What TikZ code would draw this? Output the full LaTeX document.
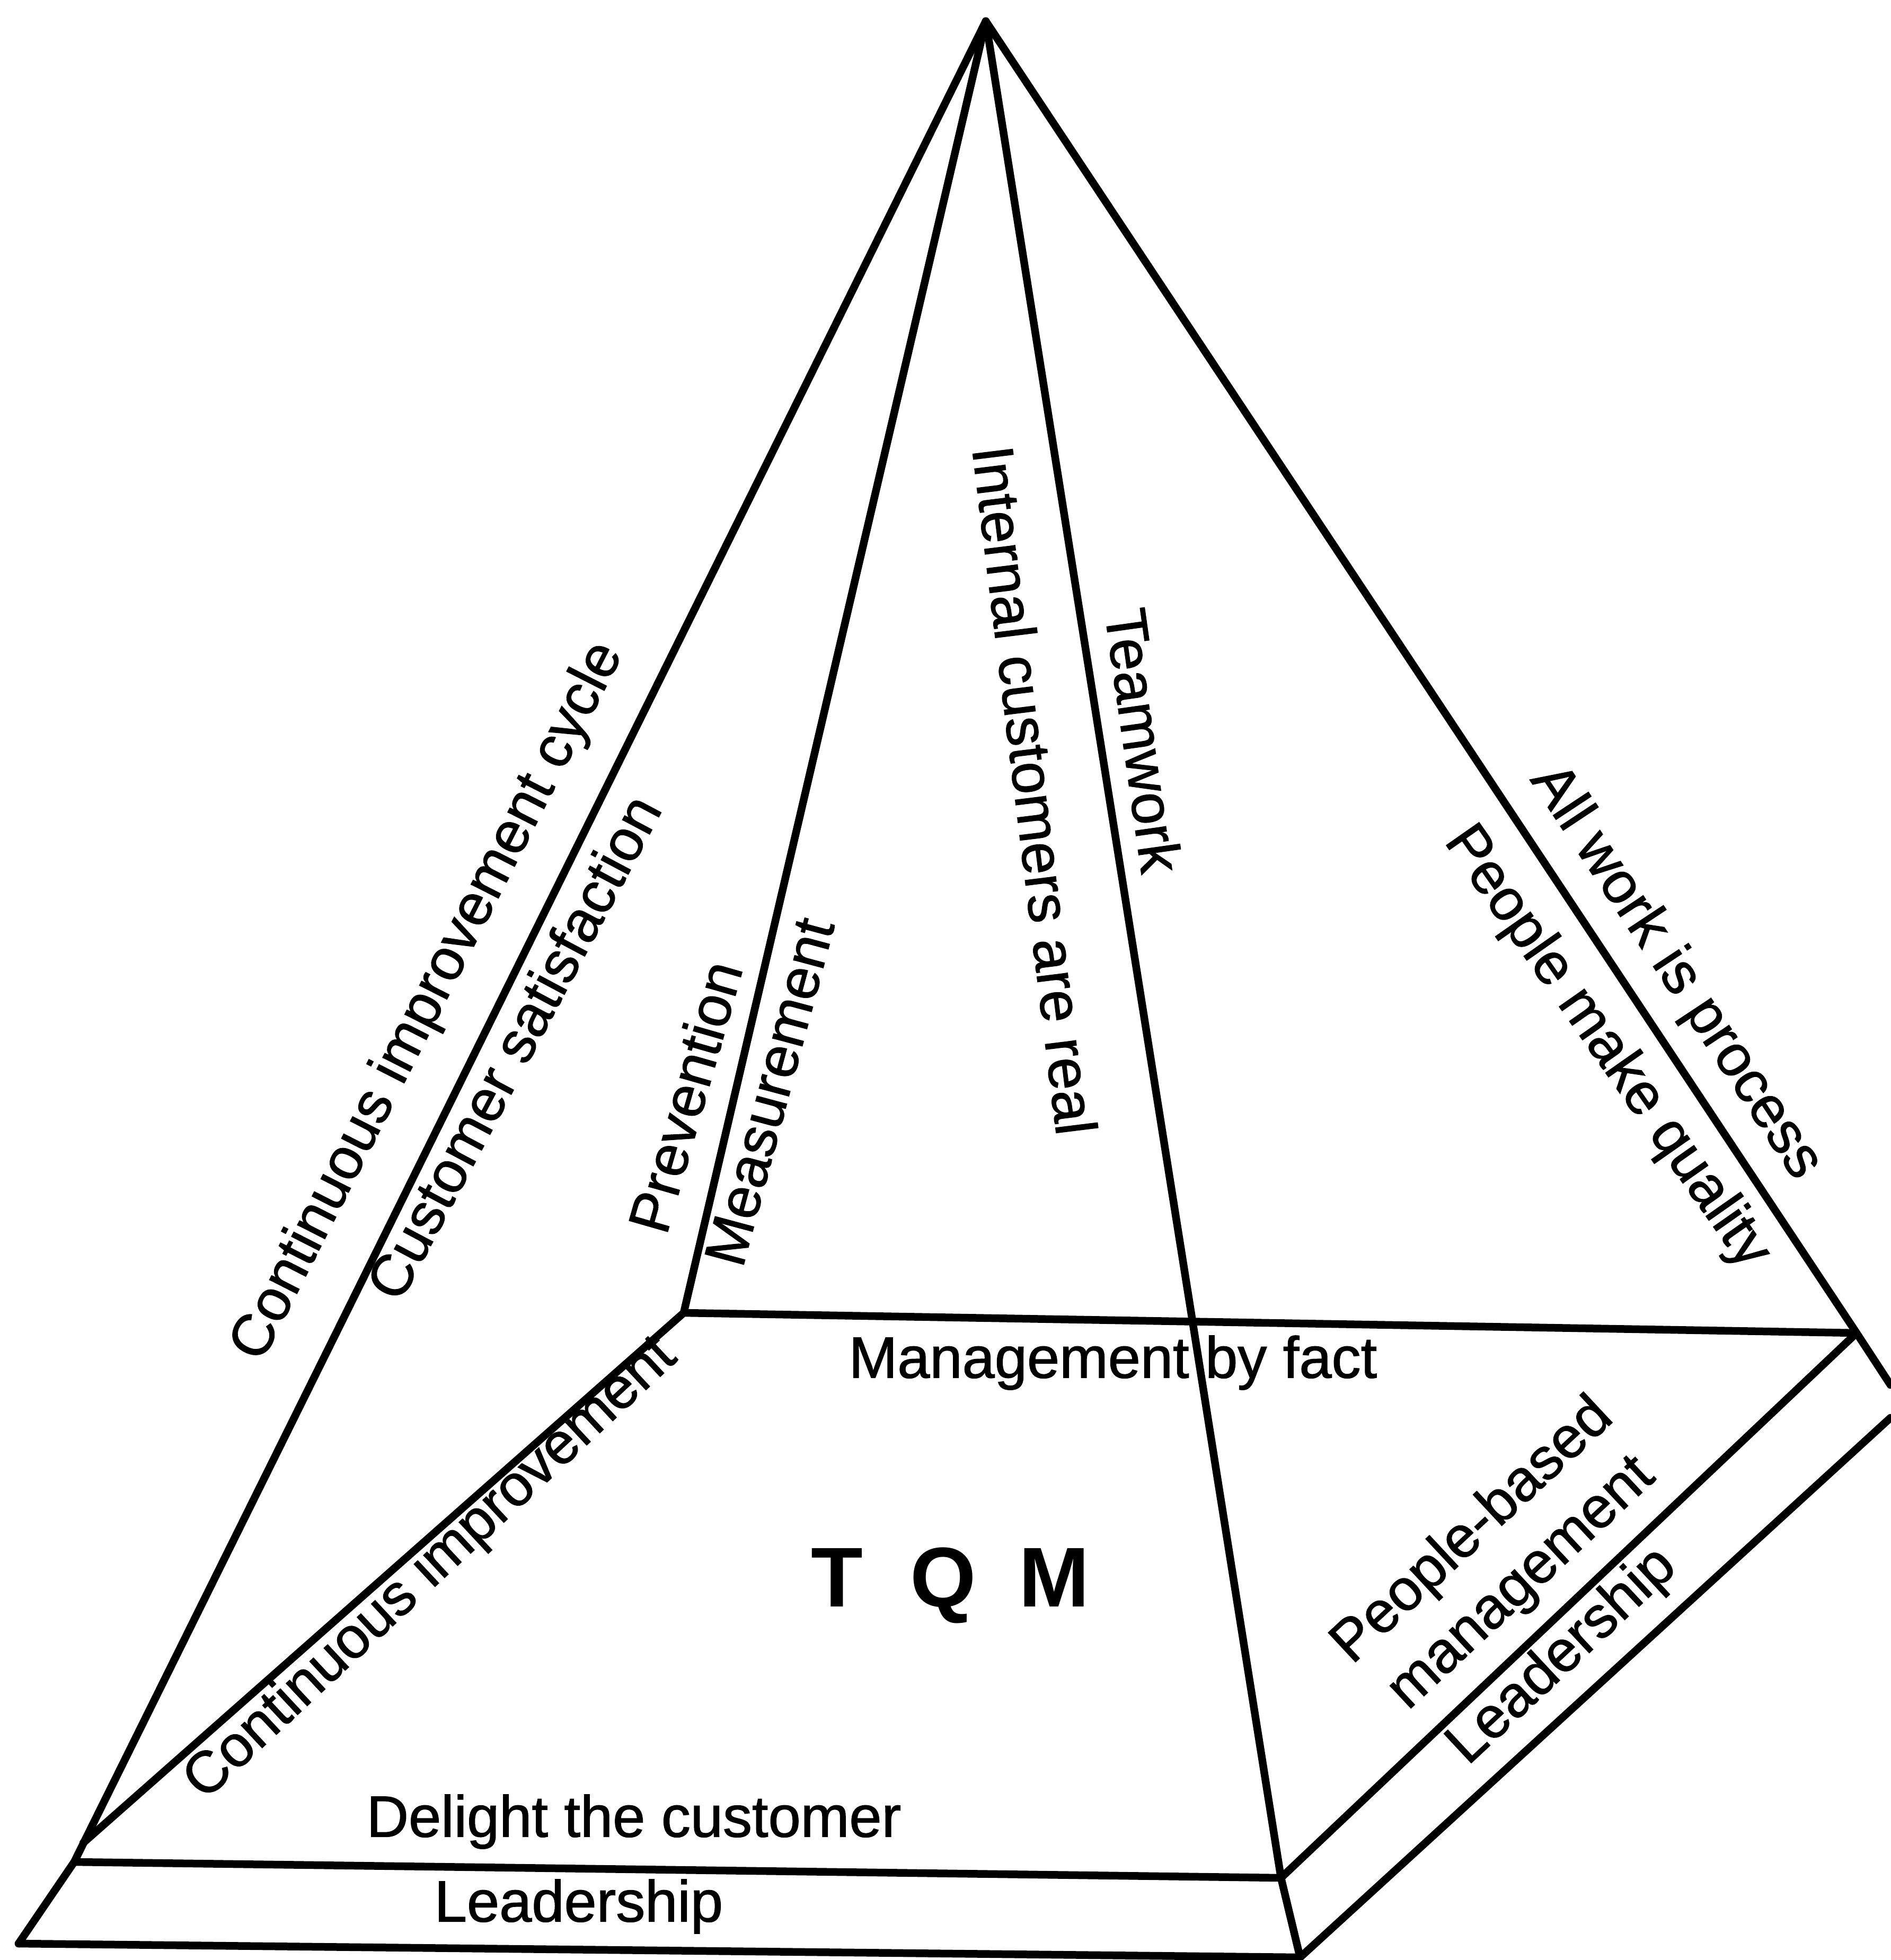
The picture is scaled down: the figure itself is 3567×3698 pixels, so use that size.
\documentclass[tikz,border=0pt]{standalone}
\usepackage{fontspec}
\setmainfont{Liberation Sans}
% slightly heavier face for the labels
\newfontfamily\labelfont{Liberation Sans}[FakeBold=1.2]
\begin{document}
\begin{tikzpicture}[x=0.1pt,y=-0.1pt,
  edge/.style={line width=1.45pt, line cap=round, line join=round},
  lbl/.style={inner sep=0pt, font=\labelfont\fontsize{11}{13.5}\selectfont, align=center},
  big/.style={inner sep=0pt, font=\fontsize{16}{18}\selectfont\bfseries}]
\useasboundingbox (0,0) rectangle (3567,3698);

% pyramid vertices
\coordinate (apex) at (1860,40);
\coordinate (bl)   at (1290,2477);
\coordinate (br)   at (3503,2515);
\coordinate (fl)   at (140,3513);
\coordinate (fr)   at (2417,3543);
\coordinate (jn)   at (157,3477);
% base slab
\coordinate (sl)   at (35,3667);
\coordinate (sr)   at (2453,3693);
\coordinate (sbr)  at (3567,2613);
\coordinate (slr)  at (3567,2675);

% edges of the pyramid
\draw[edge] (apex) -- (fl) -- (sl);
\draw[edge] (apex) -- (bl);
\draw[edge] (apex) -- (fr);
\draw[edge] (apex) -- (br) -- (sbr);
% base of the pyramid
\draw[edge] (jn) -- (bl) -- (br) -- (fr) -- (fl);
% slab
\draw[edge] (sl) -- (sr) -- (slr);
\draw[edge] (fr) -- (sr);

% faces
\node[lbl, rotate=63]  (cic)  at (809,1890)  {Continuous improvement cycle};
\node[lbl, rotate=62]  (csat) at (968,1975)  {Customer satisfaction};
\node[lbl, rotate=74]  (prev) at (1292,2069) {Prevention};
\node[lbl, rotate=75]  (meas) at (1452,2060) {Measurement};
\node[lbl, rotate=-83] (icr)  at (1953,1491) {Internal customers are real};
\node[lbl, rotate=-82] (team) at (2158,1397) {Teamwork};
\node[lbl, rotate=-56.5] (awp) at (3161,1835) {All work is process};
\node[lbl, rotate=-55] (pmq)  at (3031,1977) {People make quality};

% base
\node[lbl] (mbf) at (2100,2571) {Management by fact};
\node[lbl, rotate=43] (ci) at (814,2961) {Continuous improvement};
\node[big] (tqm) at (1793,2991) {T\hspace{9pt}Q\hspace{8pt}M};
\node[lbl] (dtc) at (1196,3437) {Delight the customer};
\node[lbl, rotate=43] (pbm) at (2826,2939) {People-based\\management};

% slab
\node[lbl] (lead1) at (1092,3597) {Leadership};
\node[lbl, rotate=43] (lead2) at (2949,3126) {Leadership};
\end{tikzpicture}
\end{document}
